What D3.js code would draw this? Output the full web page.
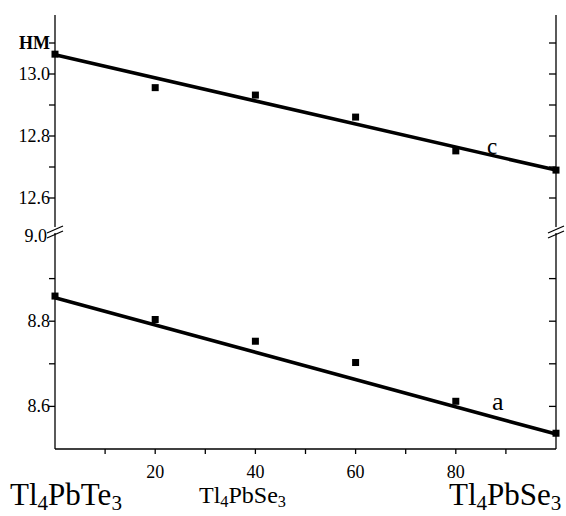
<!DOCTYPE html>
<html>
<head>
<meta charset="utf-8">
<script src="https://cdn.jsdelivr.net/npm/d3@7"></script>
<style>
  body { margin: 0; background: #fff; }
</style>
</head>
<body>
<svg id="chart" width="566" height="516"></svg>
<script>
"use strict";

// composition, mol% Tl4PbSe3
let xValues = [0, 20, 40, 60, 80, 100];
// lattice parameter c, nm (upper panel)
let cValues = [13.064, 12.956, 12.932, 12.861, 12.752, 12.690];
// lattice parameter a, nm (lower panel)
let aValues = [8.859, 8.804, 8.753, 8.703, 8.612, 8.537];
// fitted lines, value at x=0 and x=100
let cFit = [13.062, 12.690];
let aFit = [8.855, 8.535];

let xTicks = [10, 20, 30, 40, 50, 60, 70, 80, 90];
let xTickLabels = [20, 40, 60, 80];
let topTicks = [12.6, 12.7, 12.8, 12.9, 13.0, 13.1];
let topTickLabels = ['12.6', '12.8', '13.0'];
let botTicks = [8.6, 8.7, 8.8, 8.9];
let botTickLabels = ['8.6', '8.8'];

const FONT = "'Liberation Serif', 'Times New Roman', 'DejaVu Serif', serif";

let svg = d3.select('#chart').attr('font-family', FONT);

let x = d3.scaleLinear().domain([0, 100]).range([55, 556]);
let yTop = d3.scaleLinear().domain([12.5, 13.1]).range([229, 43]);
let yBot = d3.scaleLinear().domain([8.5, 9.0]).range([449, 236]);

let left = x(0), right = x(100), bottom = yBot(8.5);

// axis lines (broken)
let axes = svg.append('g').attr('stroke', '#000').attr('stroke-width', 1.3);
[left, right].forEach((ax) => {
  axes.append('line').attr('x1', ax).attr('x2', ax).attr('y1', 15).attr('y2', 227);
  axes.append('line').attr('x1', ax).attr('x2', ax).attr('y1', 233).attr('y2', bottom);
  axes.append('line').attr('x1', ax - 8).attr('x2', ax + 8).attr('y1', 233).attr('y2', 226);
  axes.append('line').attr('x1', ax - 8).attr('x2', ax + 8).attr('y1', 238).attr('y2', 231);
});
axes.append('line').attr('x1', left).attr('x2', right).attr('y1', bottom).attr('y2', bottom);

// x ticks
axes.selectAll('.xt').data(xTicks).enter().append('line')
  .attr('x1', (d) => x(d)).attr('x2', (d) => x(d))
  .attr('y1', bottom).attr('y2', bottom + 5);

// y ticks, left outward, right inward
let yTickLines = (vals, scale) => {
  axes.selectAll(null).data(vals).enter().append('line')
    .attr('x1', left - 6).attr('x2', left)
    .attr('y1', (d) => scale(d)).attr('y2', (d) => scale(d));
  axes.selectAll(null).data(vals).enter().append('line')
    .attr('x1', right - 7).attr('x2', right)
    .attr('y1', (d) => scale(d)).attr('y2', (d) => scale(d));
};
yTickLines(topTicks, yTop);
yTickLines(botTicks, yBot);

let txt = (xp, yp, size) => svg.append('text')
  .attr('x', xp).attr('y', yp).attr('font-size', size)
  .attr('font-family', FONT).attr('fill', '#000');

// tick labels
xTickLabels.forEach((d) => txt(x(d), 478, 18).attr('text-anchor', 'middle').text(d));
topTickLabels.forEach((d) => txt(50, yTop(+d) + 6, 18).attr('text-anchor', 'end').text(d));
txt(50, yTop(13.1) + 6, 18).attr('text-anchor', 'end').attr('font-weight', 'bold').text('HM');
botTickLabels.forEach((d) => txt(50, yBot(+d) + 6, 18).attr('text-anchor', 'end').text(d));
txt(47, yBot(9.0) + 6, 18).attr('text-anchor', 'end').text('9.0');

// fit lines
svg.append('line').attr('stroke', '#000').attr('stroke-width', 3.6)
  .attr('x1', x(0)).attr('x2', x(100))
  .attr('y1', yTop(cFit[0])).attr('y2', yTop(cFit[1]));
svg.append('line').attr('stroke', '#000').attr('stroke-width', 3.6)
  .attr('x1', x(0)).attr('x2', x(100))
  .attr('y1', yBot(aFit[0])).attr('y2', yBot(aFit[1]));

// markers
let drawPoints = (vals, scale) => {
  svg.selectAll(null).data(vals).enter().append('rect')
    .attr('x', (d, i) => x(xValues[i]) - 3.5)
    .attr('y', (d) => scale(d) - 3.5)
    .attr('width', 7).attr('height', 7)
    .attr('fill', '#000');
};
drawPoints(cValues, yTop);
drawPoints(aValues, yBot);

// series labels
txt(487, 154, 23).text('c');
txt(492, 410, 26).text('a');

// composition labels with subscripts
let formula = (xp, yp, size, parts) => {
  let t = txt(xp, yp, size);
  parts.forEach((p) => {
    if (p.sub) {
      t.append('tspan').attr('font-size', size * 0.68).attr('dy', size * 0.15).text(p.s);
    } else {
      t.append('tspan').attr('dy', p.back ? -size * 0.15 : 0).text(p.s);
    }
  });
};
let tlParts = (tail) => [
  { s: 'Tl' }, { s: '4', sub: true }, { s: 'Pb' + tail, back: true }, { s: '3', sub: true }
];
formula(10, 505, 31, tlParts('Te'));
formula(199, 503, 24, tlParts('Se'));
formula(449, 505, 31, tlParts('Se'));
</script>
</body>
</html>
